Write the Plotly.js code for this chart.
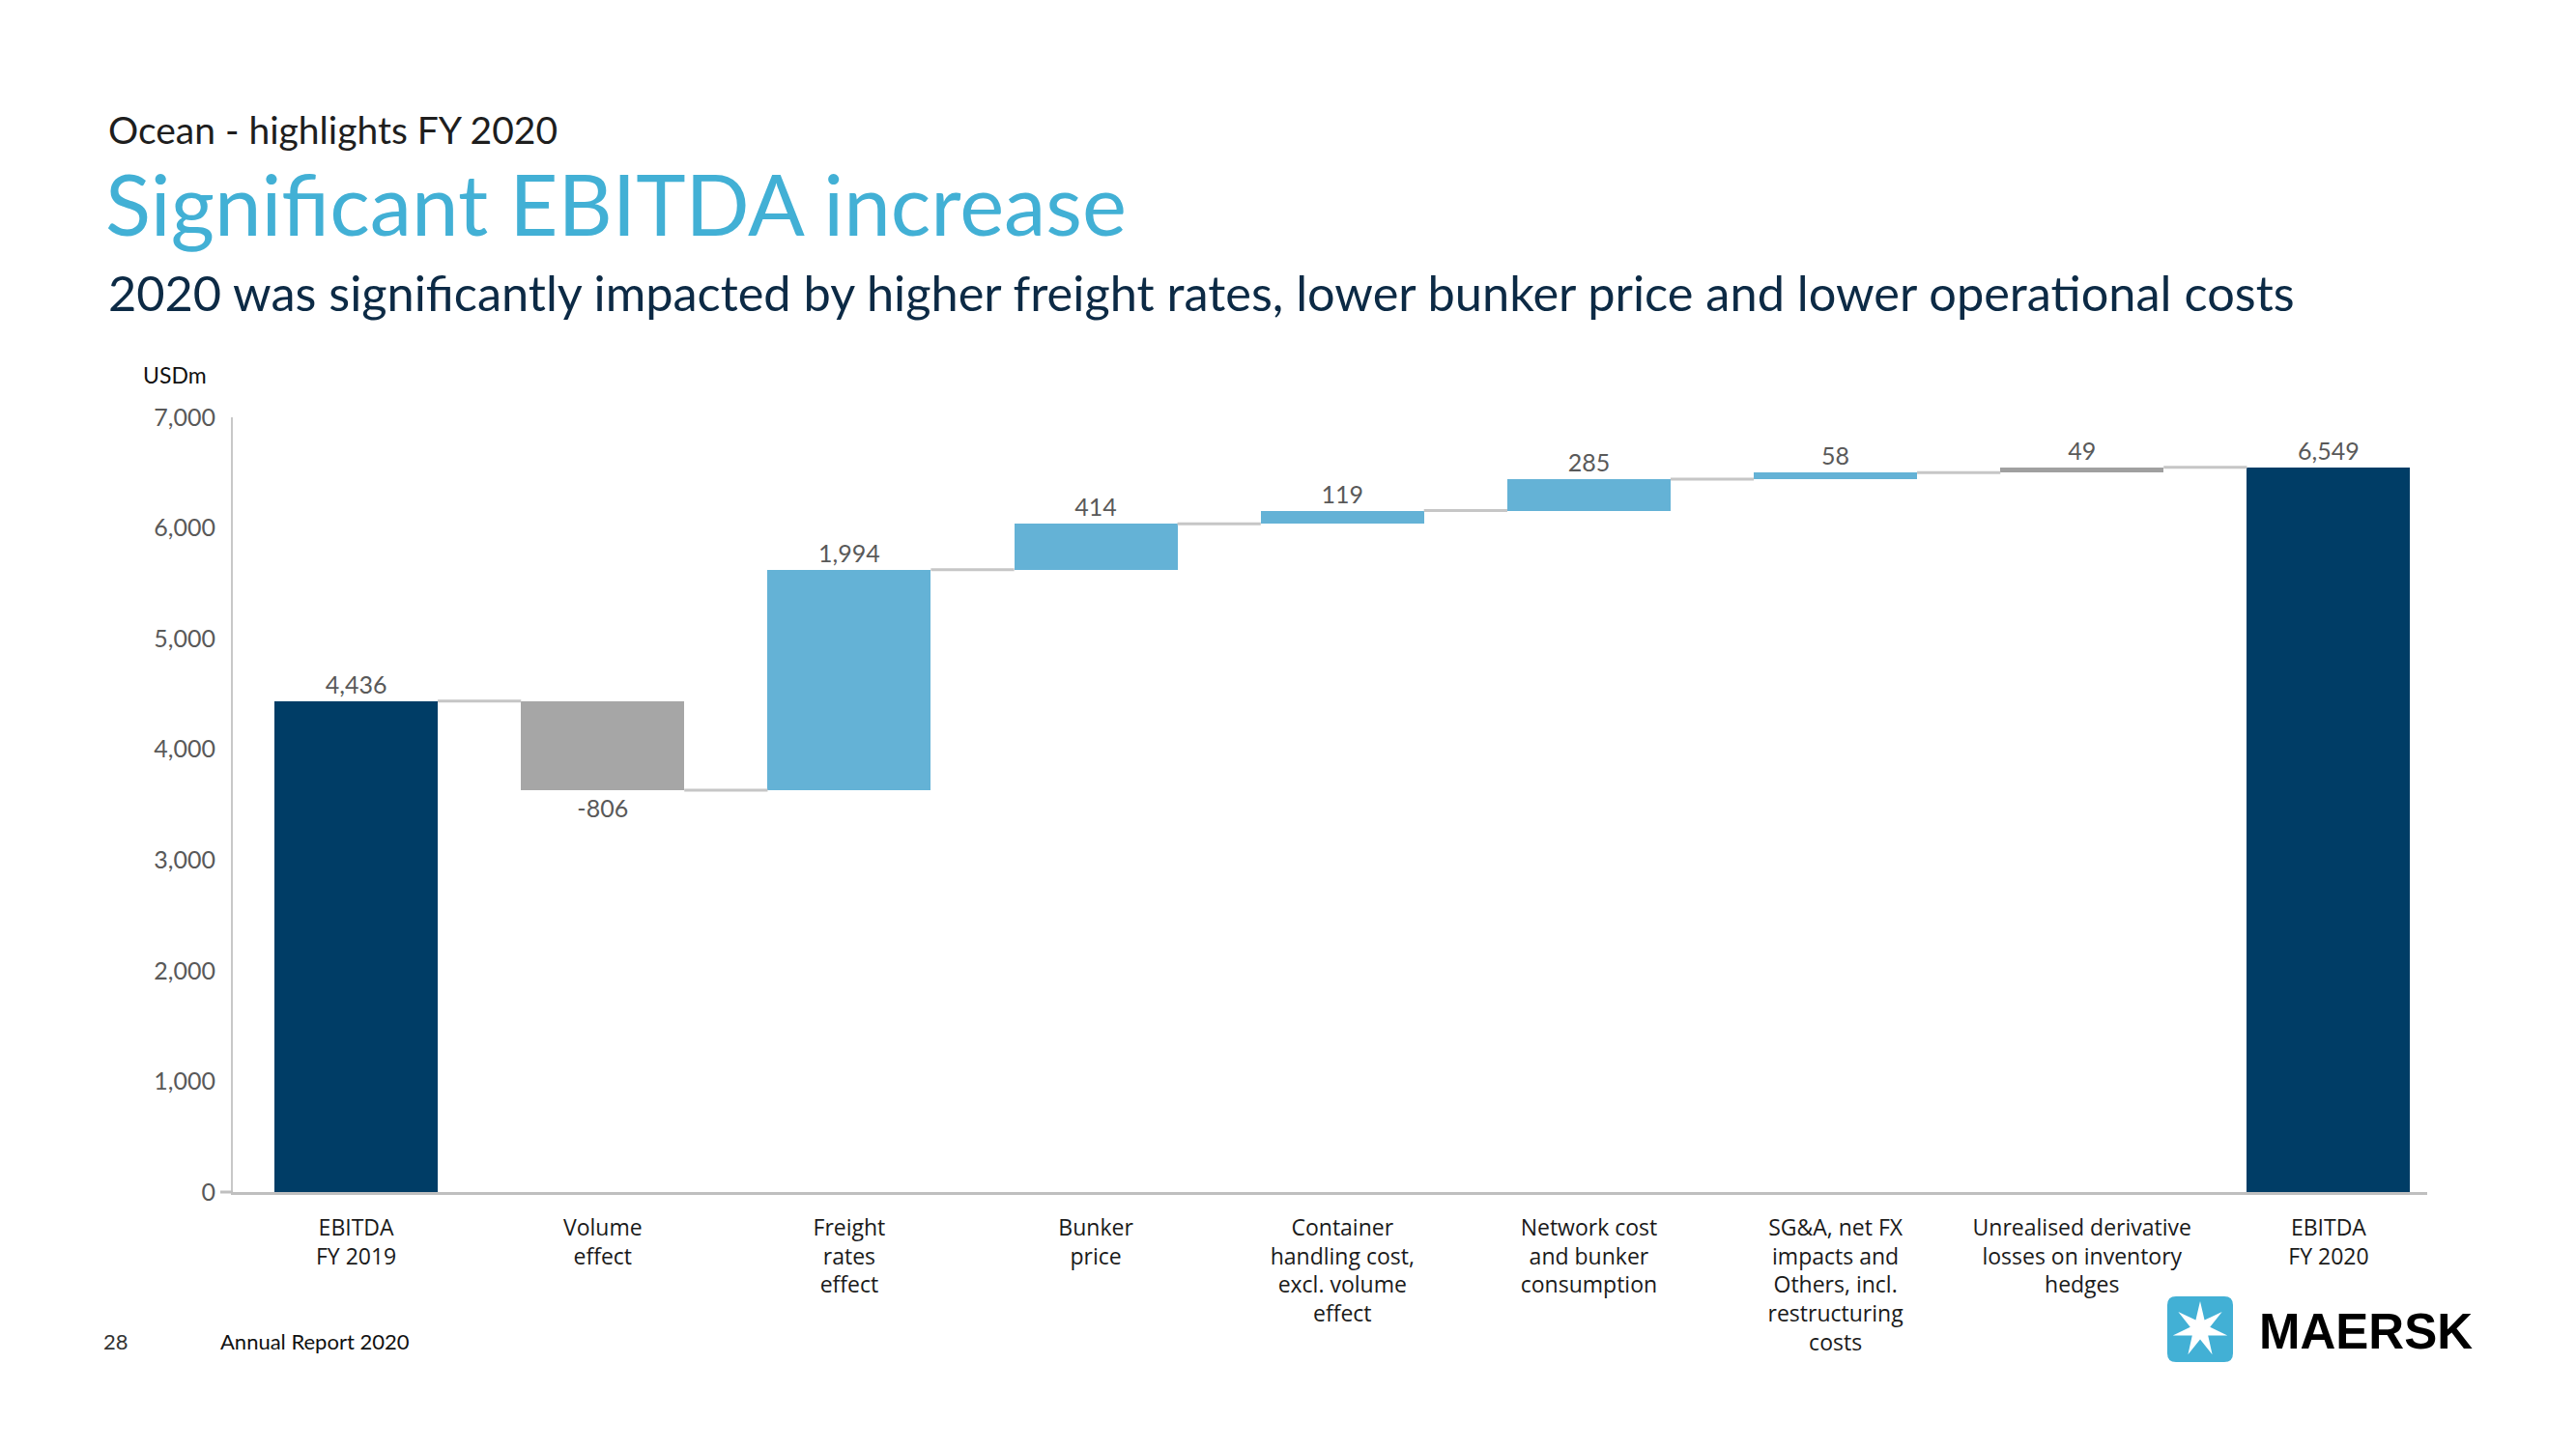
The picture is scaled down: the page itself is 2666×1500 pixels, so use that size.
<!DOCTYPE html>
<html>
<head>
<meta charset="utf-8">
<script src="https://cdn.plot.ly/plotly-3.0.1.min.js"></script>
<style>
  html, body { margin: 0; padding: 0; background: #ffffff; }
  #chart { width: 2666px; height: 1500px; }
</style>
</head>
<body>
<div id="chart"></div>
<script>
// ---------------- DATA ----------------
const categories = [
  "EBITDA<br>FY 2019",
  "Volume<br>effect",
  "Freight<br>rates<br>effect",
  "Bunker<br>price",
  "Container<br>handling cost,<br>excl. volume<br>effect",
  "Network cost<br>and bunker<br>consumption",
  "SG&A, net FX<br>impacts and<br>Others, incl.<br>restructuring<br>costs",
  "Unrealised derivative<br>losses on inventory<br>hedges",
  "EBITDA<br>FY 2020"
];
const values   = [4436, -806, 1994, 414, 119, 285, 58, 49, 6549];
const measures = ["absolute", "relative", "relative", "relative", "relative", "relative", "relative", "relative", "total"];
const colorGroup = ["total", "negative", "positive", "positive", "positive", "positive", "positive", "other", "total"];
const yTickValues = [0, 1000, 2000, 3000, 4000, 5000, 6000, 7000];
const unitLabel = "USDm";

// ---------------- STYLE ----------------
const W = 2666, H = 1500;
const M = { l: 241, r: 154, t: 432, b: 266 };
const PW = W - M.l - M.r, PH = H - M.t - M.b;
const FONT = "Lato, 'Open Sans', 'Noto Sans', sans-serif";
const FONT2 = "'Open Sans', Lato, 'Noto Sans', sans-serif";
const palette = { total: "#003d66", negative: "#a6a6a6", positive: "#64b2d6", other: "#a0a0a0" };
const barWidth = 0.662;

const X = px => (px - M.l) / PW;
const Y = py => (M.t + PH - py) / PH;

// waterfall bases computed from the data
const bases = [], tops = [];
let running = 0;
values.forEach((v, i) => {
  if (measures[i] === "absolute" || measures[i] === "total") {
    bases.push(0); running = v;
  } else {
    bases.push(running); running += v;
  }
  tops.push(running);
});
const idx = categories.map((c, i) => i);

const bars = {
  type: "bar",
  x: idx,
  y: values,
  base: bases,
  width: barWidth,
  marker: { color: colorGroup.map(g => palette[g]), line: { width: 0 } },
  text: values.map(v => v.toLocaleString("en-US")),
  textposition: "outside",
  textfont: { family: FONT, size: 25, color: "#595959" },
  cliponaxis: false,
  hoverinfo: "skip",
  showlegend: false
};

// connector segments between consecutive bars, at running total level
const cx = [], cy = [];
for (let i = 0; i < values.length - 1; i++) {
  cx.push(i + barWidth / 2, i + 1 - barWidth / 2, null);
  cy.push(tops[i], tops[i], null);
}
const connectors = {
  type: "scatter", mode: "lines", x: cx, y: cy,
  line: { color: "#c6c6c6", width: 3 },
  hoverinfo: "skip", showlegend: false, cliponaxis: false
};

// star of the logo
const starPts = [];
for (let k = 0; k < 14; k++) {
  const a = (90 - k * 360 / 14) * Math.PI / 180;
  const r = (k % 2 === 0) ? 29 : 10.5;
  starPts.push((r * Math.cos(a)).toFixed(2) + "," + (r * Math.sin(a)).toFixed(2));
}
const starPath = "M" + starPts.join(" L") + " Z";
const boxPath = "M-25,-34 L25,-34 Q34,-34 34,-25 L34,25 Q34,34 25,34 L-25,34 Q-34,34 -34,25 L-34,-25 Q-34,-34 -25,-34 Z";
const logoX = X(2277), logoY = Y(1376);

const ann = (text, px, py, size, color, opts = {}) => Object.assign({
  xref: "paper", yref: "paper", x: X(px), y: Y(py),
  xanchor: "left", yanchor: "middle", showarrow: false, text: text,
  font: { family: FONT, size: size, color: color }
}, opts);

const layout = {
  width: W, height: H,
  margin: M,
  paper_bgcolor: "#ffffff", plot_bgcolor: "#ffffff",
  bargap: 0,
  xaxis: {
    type: "linear", range: [-0.5, 8.4],
    tickmode: "array", tickvals: idx, ticktext: categories,
    showline: true, linecolor: "#bfbfbf", linewidth: 3,
    showgrid: false, zeroline: false, ticks: "",
    ticklabelstandoff: 14,
    tickfont: { family: FONT2, size: 23, color: "#1a1a1a" },
    fixedrange: true
  },
  yaxis: {
    range: [0, 7000], tickmode: "array", tickvals: yTickValues,
    tickformat: ",", showline: true, linecolor: "#c8c8c8", linewidth: 2,
    showgrid: false, zeroline: false, ticks: "",
    ticklabelstandoff: 11,
    tickfont: { family: FONT, size: 25, color: "#595959" },
    fixedrange: true
  },
  shapes: [
    { type: "line", xref: "paper", yref: "paper", x0: X(228), x1: X(241), y0: 0, y1: 0,
      line: { color: "#bfbfbf", width: 3 } },
    { type: "path", xref: "paper", yref: "paper", xsizemode: "pixel", ysizemode: "pixel",
      xanchor: logoX, yanchor: logoY, path: boxPath,
      fillcolor: "#42b0d5", line: { width: 0 } },
    { type: "path", xref: "paper", yref: "paper", xsizemode: "pixel", ysizemode: "pixel",
      xanchor: logoX, yanchor: logoY, path: starPath,
      fillcolor: "#ffffff", line: { width: 0 } }
  ],
  annotations: [
    ann("Ocean - highlights FY 2020", 110, 134, 39, "#1e1e1e"),
    ann("Significant EBITDA increase", 107, 210, 87, "#42b0d5"),
    ann("2020 was significantly impacted by higher freight rates, lower bunker price and lower operational costs", 110, 302, 50.5, "#0c2a45"),
    ann(unitLabel, 146, 388, 23, "#111111"),
    ann("28", 105, 1388, 22, "#333333"),
    ann("Annual Report 2020", 226, 1388, 22, "#111111"),
    ann("<b>MAERSK</b>", 2336, 1378, 51, "#000000", { font: { family: "'Liberation Sans', Arial, sans-serif", size: 51, color: "#000000" } })
  ]
};

Plotly.newPlot("chart", [connectors, bars], layout, { displayModeBar: false, staticPlot: true });
</script>
</body>
</html>
